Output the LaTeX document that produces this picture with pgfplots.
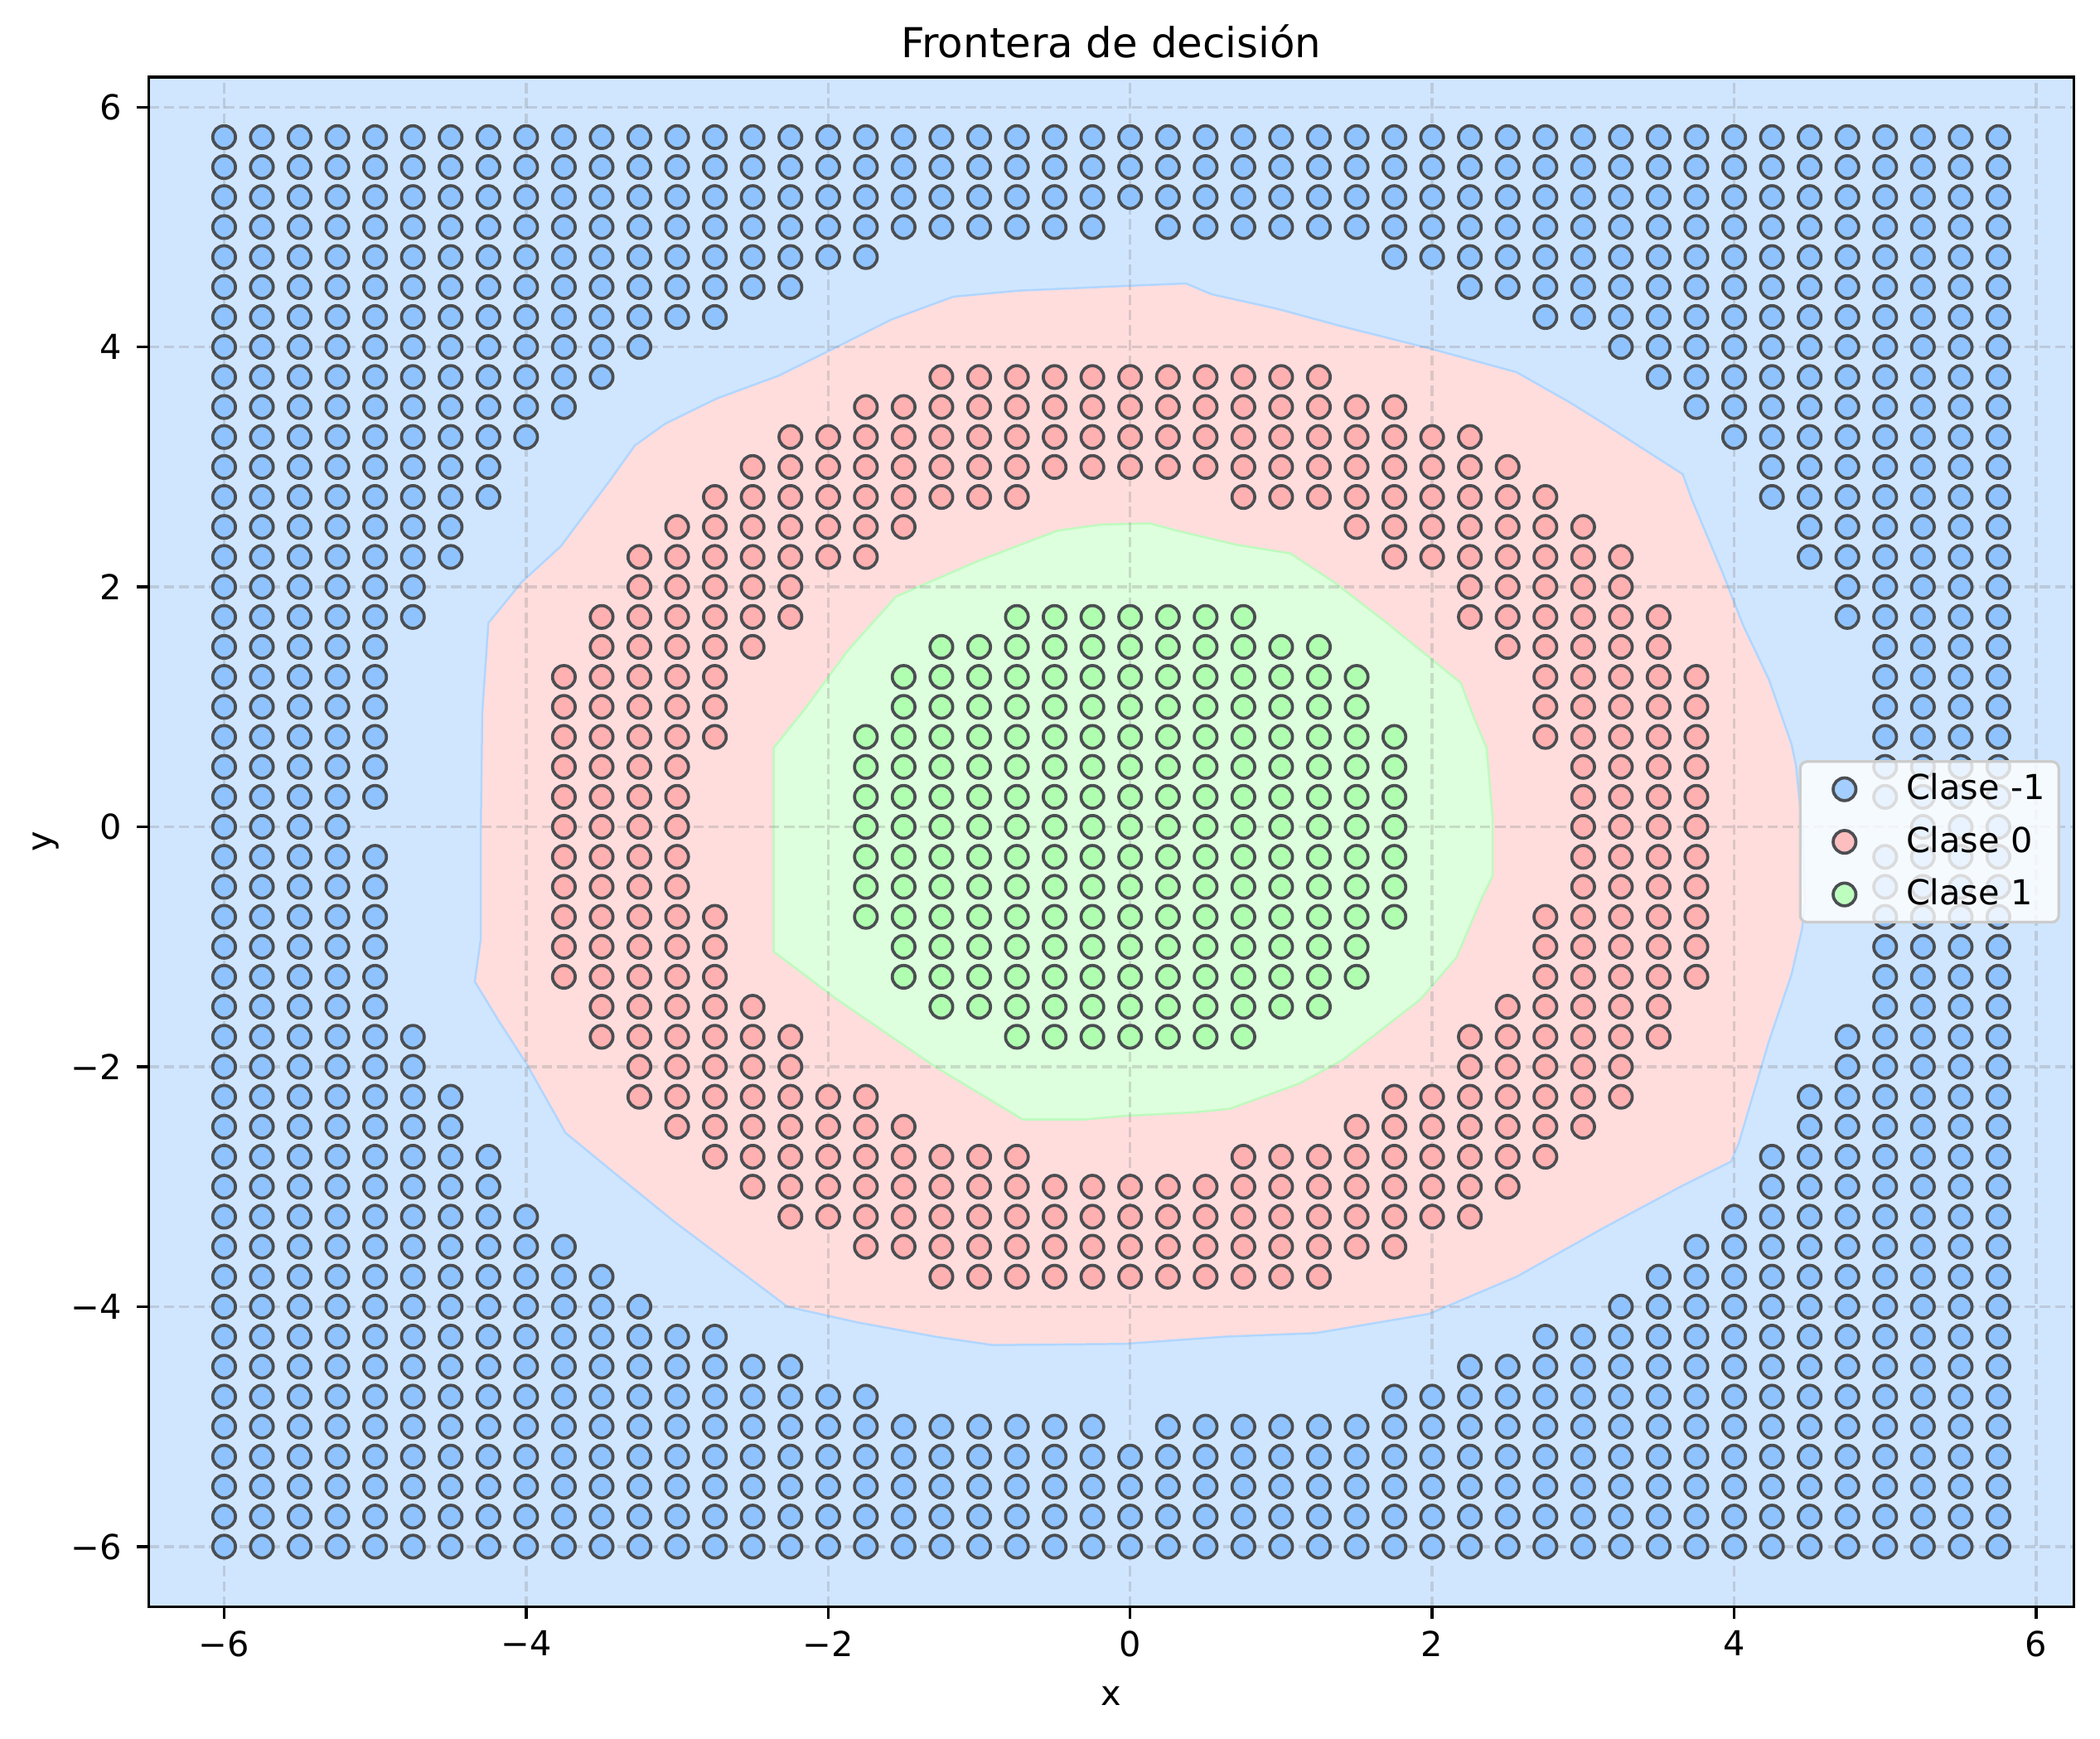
\documentclass[border=0pt]{standalone}
\usepackage{fontspec}
\setmainfont{DejaVu Sans}
\usepackage{pgfplots}
\pgfplotsset{compat=1.18}
\definecolor{bgblue}{RGB}{208,230,255}
\definecolor{bgred}{RGB}{255,221,221}
\definecolor{bggreen}{RGB}{221,255,221}
\definecolor{edgeblue}{RGB}{176,214,255}
\definecolor{edgegreen}{RGB}{190,250,190}
\definecolor{ptblue}{RGB}{143,195,255}
\definecolor{ptred}{RGB}{255,176,176}
\definecolor{ptgreen}{RGB}{176,255,176}
\definecolor{ptedge}{RGB}{75,78,82}
\pgfplotsset{dotlegend/.style={legend image code/.code={\path (0pt,0pt) (26pt,0pt); \draw[##1] plot coordinates {(10.5pt,0pt)};}}}
\begin{document}
\begin{tikzpicture}
\begin{axis}[
 scale only axis, width=559.9pt, height=444.7pt,
 xmin=-6.5, xmax=6.25, ymin=-6.5, ymax=6.25,
 axis background/.style={fill=bgblue},
 axis on top,
 xtick={-6,-4,-2,0,2,4,6}, xticklabels={−6,−4,−2,0,2,4,6},
 ytick={-6,-4,-2,0,2,4,6}, yticklabels={−6,−4,−2,0,2,4,6},
 yticklabel style={xshift=-0.8pt},
 tick pos=left, tick align=outside, major tick length=3.5pt,
 every tick/.style={black, line width=0.8pt},
 axis line style={line width=0.8pt},
 grid=major,
 major grid style={draw=black!45, opacity=0.3, line width=0.8pt, dash pattern=on 3pt off 1.4pt},
 xlabel={x}, ylabel={y},
 xlabel shift=1.9pt, ylabel shift=-3.4pt,
 title={Frontera de decisión},
 title style={font=\fontsize{12}{14}\selectfont, yshift=-4pt},
 legend style={at={(1,0.5)}, xshift=-4pt, anchor=east, fill=white, fill opacity=0.8, text opacity=1, draw=black!20, line width=0.8pt, rounded corners=2pt, font=\fontsize{10}{12}\selectfont, row sep=2.2pt, inner xsep=2pt, inner ysep=1.5pt},
 legend cell align=left,
]
\addplot[forget plot, fill=bgred, draw=edgeblue, line width=0.6pt] coordinates {
(-0.02,4.51) (0.37,4.53) (0.54,4.44) (0.97,4.32) (1.41,4.17) (1.98,3.99) (2.56,3.79) (2.91,3.54) (3.14,3.36) (3.66,2.94) (3.72,2.73) (3.92,2.13) (4.06,1.68) (4.23,1.23) (4.38,0.69) (4.41,0.51) (4.45,0) (4.47,-0.6) (4.45,-0.85) (4.38,-1.23) (4.23,-1.79) (4.03,-2.64) (3.98,-2.79) (3.66,-2.99) (3.14,-3.34) (2.56,-3.75) (1.98,-4.06) (1.23,-4.22) (0.63,-4.25) (-0.04,-4.31) (-0.91,-4.32) (-1.29,-4.25) (-1.81,-4.13) (-2.27,-4.0) (-3.02,-3.29) (-3.45,-2.85) (-3.74,-2.55) (-4.0,-1.97) (-4.18,-1.62) (-4.34,-1.29) (-4.30,-0.93) (-4.30,0.0) (-4.29,0.96) (-4.25,1.70) (-4.03,2.04) (-3.77,2.34) (-3.45,2.88) (-3.28,3.18) (-3.08,3.36) (-2.74,3.57) (-2.33,3.76) (-1.96,3.99) (-1.58,4.23) (-1.17,4.42) (-0.74,4.47)
} -- cycle;
\addplot[forget plot, fill=bggreen, draw=edgegreen, line width=0.6pt] coordinates {
(-0.19,2.52) (0.13,2.53) (0.34,2.46) (0.71,2.35) (1.06,2.28) (1.35,2.04) (1.69,1.71) (2.19,1.20) (2.27,0.93) (2.36,0.66) (2.40,0.08) (2.40,-0.41) (2.33,-0.59) (2.16,-1.09) (1.92,-1.44) (1.41,-1.94) (1.12,-2.14) (0.66,-2.35) (0.42,-2.38) (-0.04,-2.41) (-0.31,-2.44) (-0.71,-2.44) (-1.29,-2.0) (-1.95,-1.43) (-2.36,-1.04) (-2.36,0.66) (-2.15,0.99) (-1.87,1.47) (-1.55,1.92) (-1.0,2.22) (-0.48,2.47)
} -- cycle;
% Clase -1
\addplot[only marks, mark=*, mark size=3.3pt, mark options={fill=ptblue, draw=ptedge, line width=0.9pt}, dotlegend] coordinates {
(-6,5.75) (-5.75,5.75) (-5.5,5.75) (-5.25,5.75) (-5,5.75) (-4.75,5.75) (-4.5,5.75) (-4.25,5.75) (-4,5.75) (-3.75,5.75) (-3.5,5.75) (-3.25,5.75) (-3,5.75) (-2.75,5.75) (-2.5,5.75) (-2.25,5.75) (-2,5.75) (-1.75,5.75) (-1.5,5.75) (-1.25,5.75) (-1,5.75) (-0.75,5.75) (-0.5,5.75) (-0.25,5.75) (0,5.75) (0.25,5.75) (0.5,5.75) (0.75,5.75) (1,5.75) (1.25,5.75) (1.5,5.75) (1.75,5.75) (2,5.75) (2.25,5.75) (2.5,5.75) (2.75,5.75) (3,5.75) (3.25,5.75) (3.5,5.75) (3.75,5.75) (4,5.75) (4.25,5.75) (4.5,5.75) (4.75,5.75) (5,5.75) (5.25,5.75) (5.5,5.75) (5.75,5.75)
(-6,5.5) (-5.75,5.5) (-5.5,5.5) (-5.25,5.5) (-5,5.5) (-4.75,5.5) (-4.5,5.5) (-4.25,5.5) (-4,5.5) (-3.75,5.5) (-3.5,5.5) (-3.25,5.5) (-3,5.5) (-2.75,5.5) (-2.5,5.5) (-2.25,5.5) (-2,5.5) (-1.75,5.5) (-1.5,5.5) (-1.25,5.5) (-1,5.5) (-0.75,5.5) (-0.5,5.5) (-0.25,5.5) (0,5.5) (0.25,5.5) (0.5,5.5) (0.75,5.5) (1,5.5) (1.25,5.5) (1.5,5.5) (1.75,5.5) (2,5.5) (2.25,5.5) (2.5,5.5) (2.75,5.5) (3,5.5) (3.25,5.5) (3.5,5.5) (3.75,5.5) (4,5.5) (4.25,5.5) (4.5,5.5) (4.75,5.5) (5,5.5) (5.25,5.5) (5.5,5.5) (5.75,5.5)
(-6,5.25) (-5.75,5.25) (-5.5,5.25) (-5.25,5.25) (-5,5.25) (-4.75,5.25) (-4.5,5.25) (-4.25,5.25) (-4,5.25) (-3.75,5.25) (-3.5,5.25) (-3.25,5.25) (-3,5.25) (-2.75,5.25) (-2.5,5.25) (-2.25,5.25) (-2,5.25) (-1.75,5.25) (-1.5,5.25) (-1.25,5.25) (-1,5.25) (-0.75,5.25) (-0.5,5.25) (-0.25,5.25) (0,5.25) (0.25,5.25) (0.5,5.25) (0.75,5.25) (1,5.25) (1.25,5.25) (1.5,5.25) (1.75,5.25) (2,5.25) (2.25,5.25) (2.5,5.25) (2.75,5.25) (3,5.25) (3.25,5.25) (3.5,5.25) (3.75,5.25) (4,5.25) (4.25,5.25) (4.5,5.25) (4.75,5.25) (5,5.25) (5.25,5.25) (5.5,5.25) (5.75,5.25)
(-6,5) (-5.75,5) (-5.5,5) (-5.25,5) (-5,5) (-4.75,5) (-4.5,5) (-4.25,5) (-4,5) (-3.75,5) (-3.5,5) (-3.25,5) (-3,5) (-2.75,5) (-2.5,5) (-2.25,5) (-2,5) (-1.75,5) (-1.5,5) (-1.25,5) (-1,5) (-0.75,5) (-0.5,5) (-0.25,5) (0.25,5) (0.5,5) (0.75,5) (1,5) (1.25,5) (1.5,5) (1.75,5) (2,5) (2.25,5) (2.5,5) (2.75,5) (3,5) (3.25,5) (3.5,5) (3.75,5) (4,5) (4.25,5) (4.5,5) (4.75,5) (5,5) (5.25,5) (5.5,5) (5.75,5)
(-6,4.75) (-5.75,4.75) (-5.5,4.75) (-5.25,4.75) (-5,4.75) (-4.75,4.75) (-4.5,4.75) (-4.25,4.75) (-4,4.75) (-3.75,4.75) (-3.5,4.75) (-3.25,4.75) (-3,4.75) (-2.75,4.75) (-2.5,4.75) (-2.25,4.75) (-2,4.75) (-1.75,4.75) (1.75,4.75) (2,4.75) (2.25,4.75) (2.5,4.75) (2.75,4.75) (3,4.75) (3.25,4.75) (3.5,4.75) (3.75,4.75) (4,4.75) (4.25,4.75) (4.5,4.75) (4.75,4.75) (5,4.75) (5.25,4.75) (5.5,4.75) (5.75,4.75)
(-6,4.5) (-5.75,4.5) (-5.5,4.5) (-5.25,4.5) (-5,4.5) (-4.75,4.5) (-4.5,4.5) (-4.25,4.5) (-4,4.5) (-3.75,4.5) (-3.5,4.5) (-3.25,4.5) (-3,4.5) (-2.75,4.5) (-2.5,4.5) (-2.25,4.5) (2.25,4.5) (2.5,4.5) (2.75,4.5) (3,4.5) (3.25,4.5) (3.5,4.5) (3.75,4.5) (4,4.5) (4.25,4.5) (4.5,4.5) (4.75,4.5) (5,4.5) (5.25,4.5) (5.5,4.5) (5.75,4.5)
(-6,4.25) (-5.75,4.25) (-5.5,4.25) (-5.25,4.25) (-5,4.25) (-4.75,4.25) (-4.5,4.25) (-4.25,4.25) (-4,4.25) (-3.75,4.25) (-3.5,4.25) (-3.25,4.25) (-3,4.25) (-2.75,4.25) (2.75,4.25) (3,4.25) (3.25,4.25) (3.5,4.25) (3.75,4.25) (4,4.25) (4.25,4.25) (4.5,4.25) (4.75,4.25) (5,4.25) (5.25,4.25) (5.5,4.25) (5.75,4.25)
(-6,4) (-5.75,4) (-5.5,4) (-5.25,4) (-5,4) (-4.75,4) (-4.5,4) (-4.25,4) (-4,4) (-3.75,4) (-3.5,4) (-3.25,4) (3.25,4) (3.5,4) (3.75,4) (4,4) (4.25,4) (4.5,4) (4.75,4) (5,4) (5.25,4) (5.5,4) (5.75,4)
(-6,3.75) (-5.75,3.75) (-5.5,3.75) (-5.25,3.75) (-5,3.75) (-4.75,3.75) (-4.5,3.75) (-4.25,3.75) (-4,3.75) (-3.75,3.75) (-3.5,3.75) (3.5,3.75) (3.75,3.75) (4,3.75) (4.25,3.75) (4.5,3.75) (4.75,3.75) (5,3.75) (5.25,3.75) (5.5,3.75) (5.75,3.75)
(-6,3.5) (-5.75,3.5) (-5.5,3.5) (-5.25,3.5) (-5,3.5) (-4.75,3.5) (-4.5,3.5) (-4.25,3.5) (-4,3.5) (-3.75,3.5) (3.75,3.5) (4,3.5) (4.25,3.5) (4.5,3.5) (4.75,3.5) (5,3.5) (5.25,3.5) (5.5,3.5) (5.75,3.5)
(-6,3.25) (-5.75,3.25) (-5.5,3.25) (-5.25,3.25) (-5,3.25) (-4.75,3.25) (-4.5,3.25) (-4.25,3.25) (-4,3.25) (4,3.25) (4.25,3.25) (4.5,3.25) (4.75,3.25) (5,3.25) (5.25,3.25) (5.5,3.25) (5.75,3.25)
(-6,3) (-5.75,3) (-5.5,3) (-5.25,3) (-5,3) (-4.75,3) (-4.5,3) (-4.25,3) (4.25,3) (4.5,3) (4.75,3) (5,3) (5.25,3) (5.5,3) (5.75,3)
(-6,2.75) (-5.75,2.75) (-5.5,2.75) (-5.25,2.75) (-5,2.75) (-4.75,2.75) (-4.5,2.75) (-4.25,2.75) (4.25,2.75) (4.5,2.75) (4.75,2.75) (5,2.75) (5.25,2.75) (5.5,2.75) (5.75,2.75)
(-6,2.5) (-5.75,2.5) (-5.5,2.5) (-5.25,2.5) (-5,2.5) (-4.75,2.5) (-4.5,2.5) (4.5,2.5) (4.75,2.5) (5,2.5) (5.25,2.5) (5.5,2.5) (5.75,2.5)
(-6,2.25) (-5.75,2.25) (-5.5,2.25) (-5.25,2.25) (-5,2.25) (-4.75,2.25) (-4.5,2.25) (4.5,2.25) (4.75,2.25) (5,2.25) (5.25,2.25) (5.5,2.25) (5.75,2.25)
(-6,2) (-5.75,2) (-5.5,2) (-5.25,2) (-5,2) (-4.75,2) (4.75,2) (5,2) (5.25,2) (5.5,2) (5.75,2)
(-6,1.75) (-5.75,1.75) (-5.5,1.75) (-5.25,1.75) (-5,1.75) (-4.75,1.75) (4.75,1.75) (5,1.75) (5.25,1.75) (5.5,1.75) (5.75,1.75)
(-6,1.5) (-5.75,1.5) (-5.5,1.5) (-5.25,1.5) (-5,1.5) (5,1.5) (5.25,1.5) (5.5,1.5) (5.75,1.5)
(-6,1.25) (-5.75,1.25) (-5.5,1.25) (-5.25,1.25) (-5,1.25) (5,1.25) (5.25,1.25) (5.5,1.25) (5.75,1.25)
(-6,1) (-5.75,1) (-5.5,1) (-5.25,1) (-5,1) (5,1) (5.25,1) (5.5,1) (5.75,1)
(-6,0.75) (-5.75,0.75) (-5.5,0.75) (-5.25,0.75) (-5,0.75) (5,0.75) (5.25,0.75) (5.5,0.75) (5.75,0.75)
(-6,0.5) (-5.75,0.5) (-5.5,0.5) (-5.25,0.5) (-5,0.5) (5,0.5) (5.25,0.5) (5.5,0.5) (5.75,0.5)
(-6,0.25) (-5.75,0.25) (-5.5,0.25) (-5.25,0.25) (-5,0.25) (5,0.25) (5.25,0.25) (5.5,0.25) (5.75,0.25)
(-6,0) (-5.75,0) (-5.5,0) (-5.25,0) (5.25,0) (5.5,0) (5.75,0)
(-6,-0.25) (-5.75,-0.25) (-5.5,-0.25) (-5.25,-0.25) (-5,-0.25) (5,-0.25) (5.25,-0.25) (5.5,-0.25) (5.75,-0.25)
(-6,-0.5) (-5.75,-0.5) (-5.5,-0.5) (-5.25,-0.5) (-5,-0.5) (5,-0.5) (5.25,-0.5) (5.5,-0.5) (5.75,-0.5)
(-6,-0.75) (-5.75,-0.75) (-5.5,-0.75) (-5.25,-0.75) (-5,-0.75) (5,-0.75) (5.25,-0.75) (5.5,-0.75) (5.75,-0.75)
(-6,-1) (-5.75,-1) (-5.5,-1) (-5.25,-1) (-5,-1) (5,-1) (5.25,-1) (5.5,-1) (5.75,-1)
(-6,-1.25) (-5.75,-1.25) (-5.5,-1.25) (-5.25,-1.25) (-5,-1.25) (5,-1.25) (5.25,-1.25) (5.5,-1.25) (5.75,-1.25)
(-6,-1.5) (-5.75,-1.5) (-5.5,-1.5) (-5.25,-1.5) (-5,-1.5) (5,-1.5) (5.25,-1.5) (5.5,-1.5) (5.75,-1.5)
(-6,-1.75) (-5.75,-1.75) (-5.5,-1.75) (-5.25,-1.75) (-5,-1.75) (-4.75,-1.75) (4.75,-1.75) (5,-1.75) (5.25,-1.75) (5.5,-1.75) (5.75,-1.75)
(-6,-2) (-5.75,-2) (-5.5,-2) (-5.25,-2) (-5,-2) (-4.75,-2) (4.75,-2) (5,-2) (5.25,-2) (5.5,-2) (5.75,-2)
(-6,-2.25) (-5.75,-2.25) (-5.5,-2.25) (-5.25,-2.25) (-5,-2.25) (-4.75,-2.25) (-4.5,-2.25) (4.5,-2.25) (4.75,-2.25) (5,-2.25) (5.25,-2.25) (5.5,-2.25) (5.75,-2.25)
(-6,-2.5) (-5.75,-2.5) (-5.5,-2.5) (-5.25,-2.5) (-5,-2.5) (-4.75,-2.5) (-4.5,-2.5) (4.5,-2.5) (4.75,-2.5) (5,-2.5) (5.25,-2.5) (5.5,-2.5) (5.75,-2.5)
(-6,-2.75) (-5.75,-2.75) (-5.5,-2.75) (-5.25,-2.75) (-5,-2.75) (-4.75,-2.75) (-4.5,-2.75) (-4.25,-2.75) (4.25,-2.75) (4.5,-2.75) (4.75,-2.75) (5,-2.75) (5.25,-2.75) (5.5,-2.75) (5.75,-2.75)
(-6,-3) (-5.75,-3) (-5.5,-3) (-5.25,-3) (-5,-3) (-4.75,-3) (-4.5,-3) (-4.25,-3) (4.25,-3) (4.5,-3) (4.75,-3) (5,-3) (5.25,-3) (5.5,-3) (5.75,-3)
(-6,-3.25) (-5.75,-3.25) (-5.5,-3.25) (-5.25,-3.25) (-5,-3.25) (-4.75,-3.25) (-4.5,-3.25) (-4.25,-3.25) (-4,-3.25) (4,-3.25) (4.25,-3.25) (4.5,-3.25) (4.75,-3.25) (5,-3.25) (5.25,-3.25) (5.5,-3.25) (5.75,-3.25)
(-6,-3.5) (-5.75,-3.5) (-5.5,-3.5) (-5.25,-3.5) (-5,-3.5) (-4.75,-3.5) (-4.5,-3.5) (-4.25,-3.5) (-4,-3.5) (-3.75,-3.5) (3.75,-3.5) (4,-3.5) (4.25,-3.5) (4.5,-3.5) (4.75,-3.5) (5,-3.5) (5.25,-3.5) (5.5,-3.5) (5.75,-3.5)
(-6,-3.75) (-5.75,-3.75) (-5.5,-3.75) (-5.25,-3.75) (-5,-3.75) (-4.75,-3.75) (-4.5,-3.75) (-4.25,-3.75) (-4,-3.75) (-3.75,-3.75) (-3.5,-3.75) (3.5,-3.75) (3.75,-3.75) (4,-3.75) (4.25,-3.75) (4.5,-3.75) (4.75,-3.75) (5,-3.75) (5.25,-3.75) (5.5,-3.75) (5.75,-3.75)
(-6,-4) (-5.75,-4) (-5.5,-4) (-5.25,-4) (-5,-4) (-4.75,-4) (-4.5,-4) (-4.25,-4) (-4,-4) (-3.75,-4) (-3.5,-4) (-3.25,-4) (3.25,-4) (3.5,-4) (3.75,-4) (4,-4) (4.25,-4) (4.5,-4) (4.75,-4) (5,-4) (5.25,-4) (5.5,-4) (5.75,-4)
(-6,-4.25) (-5.75,-4.25) (-5.5,-4.25) (-5.25,-4.25) (-5,-4.25) (-4.75,-4.25) (-4.5,-4.25) (-4.25,-4.25) (-4,-4.25) (-3.75,-4.25) (-3.5,-4.25) (-3.25,-4.25) (-3,-4.25) (-2.75,-4.25) (2.75,-4.25) (3,-4.25) (3.25,-4.25) (3.5,-4.25) (3.75,-4.25) (4,-4.25) (4.25,-4.25) (4.5,-4.25) (4.75,-4.25) (5,-4.25) (5.25,-4.25) (5.5,-4.25) (5.75,-4.25)
(-6,-4.5) (-5.75,-4.5) (-5.5,-4.5) (-5.25,-4.5) (-5,-4.5) (-4.75,-4.5) (-4.5,-4.5) (-4.25,-4.5) (-4,-4.5) (-3.75,-4.5) (-3.5,-4.5) (-3.25,-4.5) (-3,-4.5) (-2.75,-4.5) (-2.5,-4.5) (-2.25,-4.5) (2.25,-4.5) (2.5,-4.5) (2.75,-4.5) (3,-4.5) (3.25,-4.5) (3.5,-4.5) (3.75,-4.5) (4,-4.5) (4.25,-4.5) (4.5,-4.5) (4.75,-4.5) (5,-4.5) (5.25,-4.5) (5.5,-4.5) (5.75,-4.5)
(-6,-4.75) (-5.75,-4.75) (-5.5,-4.75) (-5.25,-4.75) (-5,-4.75) (-4.75,-4.75) (-4.5,-4.75) (-4.25,-4.75) (-4,-4.75) (-3.75,-4.75) (-3.5,-4.75) (-3.25,-4.75) (-3,-4.75) (-2.75,-4.75) (-2.5,-4.75) (-2.25,-4.75) (-2,-4.75) (-1.75,-4.75) (1.75,-4.75) (2,-4.75) (2.25,-4.75) (2.5,-4.75) (2.75,-4.75) (3,-4.75) (3.25,-4.75) (3.5,-4.75) (3.75,-4.75) (4,-4.75) (4.25,-4.75) (4.5,-4.75) (4.75,-4.75) (5,-4.75) (5.25,-4.75) (5.5,-4.75) (5.75,-4.75)
(-6,-5) (-5.75,-5) (-5.5,-5) (-5.25,-5) (-5,-5) (-4.75,-5) (-4.5,-5) (-4.25,-5) (-4,-5) (-3.75,-5) (-3.5,-5) (-3.25,-5) (-3,-5) (-2.75,-5) (-2.5,-5) (-2.25,-5) (-2,-5) (-1.75,-5) (-1.5,-5) (-1.25,-5) (-1,-5) (-0.75,-5) (-0.5,-5) (-0.25,-5) (0.25,-5) (0.5,-5) (0.75,-5) (1,-5) (1.25,-5) (1.5,-5) (1.75,-5) (2,-5) (2.25,-5) (2.5,-5) (2.75,-5) (3,-5) (3.25,-5) (3.5,-5) (3.75,-5) (4,-5) (4.25,-5) (4.5,-5) (4.75,-5) (5,-5) (5.25,-5) (5.5,-5) (5.75,-5)
(-6,-5.25) (-5.75,-5.25) (-5.5,-5.25) (-5.25,-5.25) (-5,-5.25) (-4.75,-5.25) (-4.5,-5.25) (-4.25,-5.25) (-4,-5.25) (-3.75,-5.25) (-3.5,-5.25) (-3.25,-5.25) (-3,-5.25) (-2.75,-5.25) (-2.5,-5.25) (-2.25,-5.25) (-2,-5.25) (-1.75,-5.25) (-1.5,-5.25) (-1.25,-5.25) (-1,-5.25) (-0.75,-5.25) (-0.5,-5.25) (-0.25,-5.25) (0,-5.25) (0.25,-5.25) (0.5,-5.25) (0.75,-5.25) (1,-5.25) (1.25,-5.25) (1.5,-5.25) (1.75,-5.25) (2,-5.25) (2.25,-5.25) (2.5,-5.25) (2.75,-5.25) (3,-5.25) (3.25,-5.25) (3.5,-5.25) (3.75,-5.25) (4,-5.25) (4.25,-5.25) (4.5,-5.25) (4.75,-5.25) (5,-5.25) (5.25,-5.25) (5.5,-5.25) (5.75,-5.25)
(-6,-5.5) (-5.75,-5.5) (-5.5,-5.5) (-5.25,-5.5) (-5,-5.5) (-4.75,-5.5) (-4.5,-5.5) (-4.25,-5.5) (-4,-5.5) (-3.75,-5.5) (-3.5,-5.5) (-3.25,-5.5) (-3,-5.5) (-2.75,-5.5) (-2.5,-5.5) (-2.25,-5.5) (-2,-5.5) (-1.75,-5.5) (-1.5,-5.5) (-1.25,-5.5) (-1,-5.5) (-0.75,-5.5) (-0.5,-5.5) (-0.25,-5.5) (0,-5.5) (0.25,-5.5) (0.5,-5.5) (0.75,-5.5) (1,-5.5) (1.25,-5.5) (1.5,-5.5) (1.75,-5.5) (2,-5.5) (2.25,-5.5) (2.5,-5.5) (2.75,-5.5) (3,-5.5) (3.25,-5.5) (3.5,-5.5) (3.75,-5.5) (4,-5.5) (4.25,-5.5) (4.5,-5.5) (4.75,-5.5) (5,-5.5) (5.25,-5.5) (5.5,-5.5) (5.75,-5.5)
(-6,-5.75) (-5.75,-5.75) (-5.5,-5.75) (-5.25,-5.75) (-5,-5.75) (-4.75,-5.75) (-4.5,-5.75) (-4.25,-5.75) (-4,-5.75) (-3.75,-5.75) (-3.5,-5.75) (-3.25,-5.75) (-3,-5.75) (-2.75,-5.75) (-2.5,-5.75) (-2.25,-5.75) (-2,-5.75) (-1.75,-5.75) (-1.5,-5.75) (-1.25,-5.75) (-1,-5.75) (-0.75,-5.75) (-0.5,-5.75) (-0.25,-5.75) (0,-5.75) (0.25,-5.75) (0.5,-5.75) (0.75,-5.75) (1,-5.75) (1.25,-5.75) (1.5,-5.75) (1.75,-5.75) (2,-5.75) (2.25,-5.75) (2.5,-5.75) (2.75,-5.75) (3,-5.75) (3.25,-5.75) (3.5,-5.75) (3.75,-5.75) (4,-5.75) (4.25,-5.75) (4.5,-5.75) (4.75,-5.75) (5,-5.75) (5.25,-5.75) (5.5,-5.75) (5.75,-5.75)
(-6,-6) (-5.75,-6) (-5.5,-6) (-5.25,-6) (-5,-6) (-4.75,-6) (-4.5,-6) (-4.25,-6) (-4,-6) (-3.75,-6) (-3.5,-6) (-3.25,-6) (-3,-6) (-2.75,-6) (-2.5,-6) (-2.25,-6) (-2,-6) (-1.75,-6) (-1.5,-6) (-1.25,-6) (-1,-6) (-0.75,-6) (-0.5,-6) (-0.25,-6) (0,-6) (0.25,-6) (0.5,-6) (0.75,-6) (1,-6) (1.25,-6) (1.5,-6) (1.75,-6) (2,-6) (2.25,-6) (2.5,-6) (2.75,-6) (3,-6) (3.25,-6) (3.5,-6) (3.75,-6) (4,-6) (4.25,-6) (4.5,-6) (4.75,-6) (5,-6) (5.25,-6) (5.5,-6) (5.75,-6)
};
\addlegendentry{Clase -1}
% Clase 0
\addplot[only marks, mark=*, mark size=3.3pt, mark options={fill=ptred, draw=ptedge, line width=0.9pt}, dotlegend] coordinates {
(-1.25,3.75) (-1,3.75) (-0.75,3.75) (-0.5,3.75) (-0.25,3.75) (0,3.75) (0.25,3.75) (0.5,3.75) (0.75,3.75) (1,3.75) (1.25,3.75)
(-1.75,3.5) (-1.5,3.5) (-1.25,3.5) (-1,3.5) (-0.75,3.5) (-0.5,3.5) (-0.25,3.5) (0,3.5) (0.25,3.5) (0.5,3.5) (0.75,3.5) (1,3.5) (1.25,3.5) (1.5,3.5) (1.75,3.5)
(-2.25,3.25) (-2,3.25) (-1.75,3.25) (-1.5,3.25) (-1.25,3.25) (-1,3.25) (-0.75,3.25) (-0.5,3.25) (-0.25,3.25) (0,3.25) (0.25,3.25) (0.5,3.25) (0.75,3.25) (1,3.25) (1.25,3.25) (1.5,3.25) (1.75,3.25) (2,3.25) (2.25,3.25)
(-2.5,3) (-2.25,3) (-2,3) (-1.75,3) (-1.5,3) (-1.25,3) (-1,3) (-0.75,3) (-0.5,3) (-0.25,3) (0,3) (0.25,3) (0.5,3) (0.75,3) (1,3) (1.25,3) (1.5,3) (1.75,3) (2,3) (2.25,3) (2.5,3)
(-2.75,2.75) (-2.5,2.75) (-2.25,2.75) (-2,2.75) (-1.75,2.75) (-1.5,2.75) (-1.25,2.75) (-1,2.75) (-0.75,2.75) (0.75,2.75) (1,2.75) (1.25,2.75) (1.5,2.75) (1.75,2.75) (2,2.75) (2.25,2.75) (2.5,2.75) (2.75,2.75)
(-3,2.5) (-2.75,2.5) (-2.5,2.5) (-2.25,2.5) (-2,2.5) (-1.75,2.5) (-1.5,2.5) (1.5,2.5) (1.75,2.5) (2,2.5) (2.25,2.5) (2.5,2.5) (2.75,2.5) (3,2.5)
(-3.25,2.25) (-3,2.25) (-2.75,2.25) (-2.5,2.25) (-2.25,2.25) (-2,2.25) (-1.75,2.25) (1.75,2.25) (2,2.25) (2.25,2.25) (2.5,2.25) (2.75,2.25) (3,2.25) (3.25,2.25)
(-3.25,2) (-3,2) (-2.75,2) (-2.5,2) (-2.25,2) (2.25,2) (2.5,2) (2.75,2) (3,2) (3.25,2)
(-3.5,1.75) (-3.25,1.75) (-3,1.75) (-2.75,1.75) (-2.5,1.75) (-2.25,1.75) (2.25,1.75) (2.5,1.75) (2.75,1.75) (3,1.75) (3.25,1.75) (3.5,1.75)
(-3.5,1.5) (-3.25,1.5) (-3,1.5) (-2.75,1.5) (-2.5,1.5) (2.5,1.5) (2.75,1.5) (3,1.5) (3.25,1.5) (3.5,1.5)
(-3.75,1.25) (-3.5,1.25) (-3.25,1.25) (-3,1.25) (-2.75,1.25) (2.75,1.25) (3,1.25) (3.25,1.25) (3.5,1.25) (3.75,1.25)
(-3.75,1) (-3.5,1) (-3.25,1) (-3,1) (-2.75,1) (2.75,1) (3,1) (3.25,1) (3.5,1) (3.75,1)
(-3.75,0.75) (-3.5,0.75) (-3.25,0.75) (-3,0.75) (-2.75,0.75) (2.75,0.75) (3,0.75) (3.25,0.75) (3.5,0.75) (3.75,0.75)
(-3.75,0.5) (-3.5,0.5) (-3.25,0.5) (-3,0.5) (3,0.5) (3.25,0.5) (3.5,0.5) (3.75,0.5)
(-3.75,0.25) (-3.5,0.25) (-3.25,0.25) (-3,0.25) (3,0.25) (3.25,0.25) (3.5,0.25) (3.75,0.25)
(-3.75,0) (-3.5,0) (-3.25,0) (-3,0) (3,0) (3.25,0) (3.5,0) (3.75,0)
(-3.75,-0.25) (-3.5,-0.25) (-3.25,-0.25) (-3,-0.25) (3,-0.25) (3.25,-0.25) (3.5,-0.25) (3.75,-0.25)
(-3.75,-0.5) (-3.5,-0.5) (-3.25,-0.5) (-3,-0.5) (3,-0.5) (3.25,-0.5) (3.5,-0.5) (3.75,-0.5)
(-3.75,-0.75) (-3.5,-0.75) (-3.25,-0.75) (-3,-0.75) (-2.75,-0.75) (2.75,-0.75) (3,-0.75) (3.25,-0.75) (3.5,-0.75) (3.75,-0.75)
(-3.75,-1) (-3.5,-1) (-3.25,-1) (-3,-1) (-2.75,-1) (2.75,-1) (3,-1) (3.25,-1) (3.5,-1) (3.75,-1)
(-3.75,-1.25) (-3.5,-1.25) (-3.25,-1.25) (-3,-1.25) (-2.75,-1.25) (2.75,-1.25) (3,-1.25) (3.25,-1.25) (3.5,-1.25) (3.75,-1.25)
(-3.5,-1.5) (-3.25,-1.5) (-3,-1.5) (-2.75,-1.5) (-2.5,-1.5) (2.5,-1.5) (2.75,-1.5) (3,-1.5) (3.25,-1.5) (3.5,-1.5)
(-3.5,-1.75) (-3.25,-1.75) (-3,-1.75) (-2.75,-1.75) (-2.5,-1.75) (-2.25,-1.75) (2.25,-1.75) (2.5,-1.75) (2.75,-1.75) (3,-1.75) (3.25,-1.75) (3.5,-1.75)
(-3.25,-2) (-3,-2) (-2.75,-2) (-2.5,-2) (-2.25,-2) (2.25,-2) (2.5,-2) (2.75,-2) (3,-2) (3.25,-2)
(-3.25,-2.25) (-3,-2.25) (-2.75,-2.25) (-2.5,-2.25) (-2.25,-2.25) (-2,-2.25) (-1.75,-2.25) (1.75,-2.25) (2,-2.25) (2.25,-2.25) (2.5,-2.25) (2.75,-2.25) (3,-2.25) (3.25,-2.25)
(-3,-2.5) (-2.75,-2.5) (-2.5,-2.5) (-2.25,-2.5) (-2,-2.5) (-1.75,-2.5) (-1.5,-2.5) (1.5,-2.5) (1.75,-2.5) (2,-2.5) (2.25,-2.5) (2.5,-2.5) (2.75,-2.5) (3,-2.5)
(-2.75,-2.75) (-2.5,-2.75) (-2.25,-2.75) (-2,-2.75) (-1.75,-2.75) (-1.5,-2.75) (-1.25,-2.75) (-1,-2.75) (-0.75,-2.75) (0.75,-2.75) (1,-2.75) (1.25,-2.75) (1.5,-2.75) (1.75,-2.75) (2,-2.75) (2.25,-2.75) (2.5,-2.75) (2.75,-2.75)
(-2.5,-3) (-2.25,-3) (-2,-3) (-1.75,-3) (-1.5,-3) (-1.25,-3) (-1,-3) (-0.75,-3) (-0.5,-3) (-0.25,-3) (0,-3) (0.25,-3) (0.5,-3) (0.75,-3) (1,-3) (1.25,-3) (1.5,-3) (1.75,-3) (2,-3) (2.25,-3) (2.5,-3)
(-2.25,-3.25) (-2,-3.25) (-1.75,-3.25) (-1.5,-3.25) (-1.25,-3.25) (-1,-3.25) (-0.75,-3.25) (-0.5,-3.25) (-0.25,-3.25) (0,-3.25) (0.25,-3.25) (0.5,-3.25) (0.75,-3.25) (1,-3.25) (1.25,-3.25) (1.5,-3.25) (1.75,-3.25) (2,-3.25) (2.25,-3.25)
(-1.75,-3.5) (-1.5,-3.5) (-1.25,-3.5) (-1,-3.5) (-0.75,-3.5) (-0.5,-3.5) (-0.25,-3.5) (0,-3.5) (0.25,-3.5) (0.5,-3.5) (0.75,-3.5) (1,-3.5) (1.25,-3.5) (1.5,-3.5) (1.75,-3.5)
(-1.25,-3.75) (-1,-3.75) (-0.75,-3.75) (-0.5,-3.75) (-0.25,-3.75) (0,-3.75) (0.25,-3.75) (0.5,-3.75) (0.75,-3.75) (1,-3.75) (1.25,-3.75)
};
\addlegendentry{Clase 0}
% Clase 1
\addplot[only marks, mark=*, mark size=3.3pt, mark options={fill=ptgreen, draw=ptedge, line width=0.9pt}, dotlegend] coordinates {
(-0.75,1.75) (-0.5,1.75) (-0.25,1.75) (0,1.75) (0.25,1.75) (0.5,1.75) (0.75,1.75)
(-1.25,1.5) (-1,1.5) (-0.75,1.5) (-0.5,1.5) (-0.25,1.5) (0,1.5) (0.25,1.5) (0.5,1.5) (0.75,1.5) (1,1.5) (1.25,1.5)
(-1.5,1.25) (-1.25,1.25) (-1,1.25) (-0.75,1.25) (-0.5,1.25) (-0.25,1.25) (0,1.25) (0.25,1.25) (0.5,1.25) (0.75,1.25) (1,1.25) (1.25,1.25) (1.5,1.25)
(-1.5,1) (-1.25,1) (-1,1) (-0.75,1) (-0.5,1) (-0.25,1) (0,1) (0.25,1) (0.5,1) (0.75,1) (1,1) (1.25,1) (1.5,1)
(-1.75,0.75) (-1.5,0.75) (-1.25,0.75) (-1,0.75) (-0.75,0.75) (-0.5,0.75) (-0.25,0.75) (0,0.75) (0.25,0.75) (0.5,0.75) (0.75,0.75) (1,0.75) (1.25,0.75) (1.5,0.75) (1.75,0.75)
(-1.75,0.5) (-1.5,0.5) (-1.25,0.5) (-1,0.5) (-0.75,0.5) (-0.5,0.5) (-0.25,0.5) (0,0.5) (0.25,0.5) (0.5,0.5) (0.75,0.5) (1,0.5) (1.25,0.5) (1.5,0.5) (1.75,0.5)
(-1.75,0.25) (-1.5,0.25) (-1.25,0.25) (-1,0.25) (-0.75,0.25) (-0.5,0.25) (-0.25,0.25) (0,0.25) (0.25,0.25) (0.5,0.25) (0.75,0.25) (1,0.25) (1.25,0.25) (1.5,0.25) (1.75,0.25)
(-1.75,0) (-1.5,0) (-1.25,0) (-1,0) (-0.75,0) (-0.5,0) (-0.25,0) (0,0) (0.25,0) (0.5,0) (0.75,0) (1,0) (1.25,0) (1.5,0) (1.75,0)
(-1.75,-0.25) (-1.5,-0.25) (-1.25,-0.25) (-1,-0.25) (-0.75,-0.25) (-0.5,-0.25) (-0.25,-0.25) (0,-0.25) (0.25,-0.25) (0.5,-0.25) (0.75,-0.25) (1,-0.25) (1.25,-0.25) (1.5,-0.25) (1.75,-0.25)
(-1.75,-0.5) (-1.5,-0.5) (-1.25,-0.5) (-1,-0.5) (-0.75,-0.5) (-0.5,-0.5) (-0.25,-0.5) (0,-0.5) (0.25,-0.5) (0.5,-0.5) (0.75,-0.5) (1,-0.5) (1.25,-0.5) (1.5,-0.5) (1.75,-0.5)
(-1.75,-0.75) (-1.5,-0.75) (-1.25,-0.75) (-1,-0.75) (-0.75,-0.75) (-0.5,-0.75) (-0.25,-0.75) (0,-0.75) (0.25,-0.75) (0.5,-0.75) (0.75,-0.75) (1,-0.75) (1.25,-0.75) (1.5,-0.75) (1.75,-0.75)
(-1.5,-1) (-1.25,-1) (-1,-1) (-0.75,-1) (-0.5,-1) (-0.25,-1) (0,-1) (0.25,-1) (0.5,-1) (0.75,-1) (1,-1) (1.25,-1) (1.5,-1)
(-1.5,-1.25) (-1.25,-1.25) (-1,-1.25) (-0.75,-1.25) (-0.5,-1.25) (-0.25,-1.25) (0,-1.25) (0.25,-1.25) (0.5,-1.25) (0.75,-1.25) (1,-1.25) (1.25,-1.25) (1.5,-1.25)
(-1.25,-1.5) (-1,-1.5) (-0.75,-1.5) (-0.5,-1.5) (-0.25,-1.5) (0,-1.5) (0.25,-1.5) (0.5,-1.5) (0.75,-1.5) (1,-1.5) (1.25,-1.5)
(-0.75,-1.75) (-0.5,-1.75) (-0.25,-1.75) (0,-1.75) (0.25,-1.75) (0.5,-1.75) (0.75,-1.75)
};
\addlegendentry{Clase 1}
\end{axis}
\path (current bounding box.south west) ++(-6.3pt,-6.1pt);
\path (current bounding box.north east) ++(7.2pt,3.8pt);
\end{tikzpicture}
\end{document}
